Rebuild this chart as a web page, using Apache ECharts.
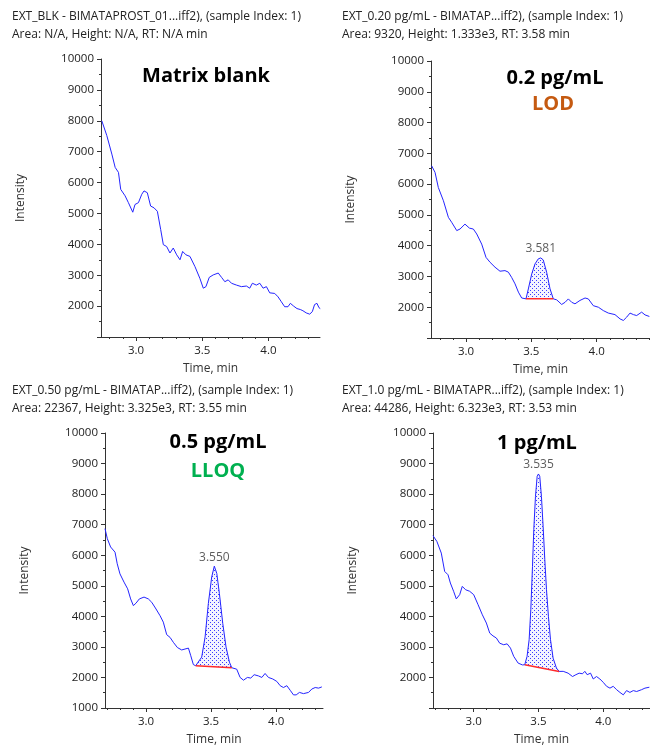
<!DOCTYPE html>
<html>
<head>
<meta charset="utf-8">
<script src="https://cdn.jsdelivr.net/npm/echarts@6/dist/echarts.min.js"></script>
<style>
html,body{margin:0;padding:0;background:#fff;}
#chart{width:650px;height:750px;}
</style>
</head>
<body>
<div id="chart"></div>
<script>
// ---------------- DATA ----------------
const blankTrace = [[2.741,8000],[2.779,7520],[2.817,6920],[2.842,6490],[2.867,6330],[2.884,5780],[2.917,5570],[2.942,5350],[2.975,5040],[2.992,5290],[3.018,5350],[3.043,5620],[3.06,5730],[3.085,5670],[3.11,5240],[3.136,5180],[3.161,5070],[3.186,4480],[3.206,3990],[3.231,3930],[3.256,3720],[3.281,3880],[3.307,3660],[3.332,3500],[3.352,3770],[3.377,3660],[3.407,3610],[3.445,3280],[3.482,2900],[3.508,2580],[3.528,2630],[3.553,2930],[3.583,3010],[3.621,3070],[3.646,2930],[3.671,2790],[3.696,2850],[3.721,2740],[3.759,2680],[3.796,2630],[3.834,2650],[3.859,2580],[3.879,2740],[3.909,2680],[3.935,2740],[3.96,2580],[3.985,2630],[4.01,2430],[4.048,2410],[4.073,2300],[4.098,2140],[4.123,1980],[4.148,1980],[4.166,2090],[4.191,2000],[4.216,1920],[4.241,1890],[4.261,1850],[4.286,1780],[4.312,1740],[4.332,1820],[4.349,2050],[4.367,2090],[4.382,1950],[4.392,1920]];

const lodTrace = [[2.737,6595],[2.763,6380],[2.788,5890],[2.827,5460],[2.865,4920],[2.89,4760],[2.929,4490],[2.954,4540],[2.992,4700],[3.026,4570],[3.056,4540],[3.082,4380],[3.12,4050],[3.153,3620],[3.184,3460],[3.222,3300],[3.26,3170],[3.298,3190],[3.324,3140],[3.349,2970],[3.375,2760],[3.401,2490],[3.426,2300],[3.459,2272],[3.477,2597],[3.503,3083],[3.528,3407],[3.553,3570],[3.572,3602],[3.591,3537],[3.617,3135],[3.643,2597],[3.668,2272],[3.694,2240],[3.732,2090],[3.758,2160],[3.783,2270],[3.809,2160],[3.834,2110],[3.872,2220],[3.911,2300],[3.936,2270],[3.974,2050],[4.013,2000],[4.051,1890],[4.089,1810],[4.14,1760],[4.179,1620],[4.204,1570],[4.23,1680],[4.255,1810],[4.281,1760],[4.306,1730],[4.344,1840],[4.37,1750],[4.403,1700]];

const lloqTrace = [[2.685,6870],[2.703,6540],[2.728,6270],[2.762,6100],[2.779,5720],[2.8,5390],[2.831,5120],[2.859,4900],[2.882,4570],[2.903,4350],[2.923,4430],[2.949,4570],[2.985,4630],[3.018,4570],[3.044,4460],[3.077,4240],[3.108,4020],[3.133,3810],[3.159,3400],[3.185,3310],[3.21,3150],[3.241,2980],[3.274,2900],[3.3,2930],[3.326,2960],[3.344,2710],[3.364,2420],[3.382,2384],[3.428,2666],[3.454,3323],[3.479,4417],[3.505,5292],[3.525,5643],[3.544,5403],[3.564,4746],[3.59,3761],[3.615,2994],[3.641,2502],[3.659,2318],[3.697,2270],[3.723,2000],[3.749,1910],[3.779,2000],[3.805,1980],[3.831,2090],[3.864,2050],[3.89,2000],[3.915,2130],[3.941,2000],[3.974,1950],[4.005,1870],[4.031,1730],[4.056,1670],[4.082,1730],[4.108,1580],[4.133,1430],[4.154,1430],[4.179,1510],[4.21,1470],[4.249,1510],[4.274,1620],[4.3,1670],[4.326,1650],[4.351,1690]];

const oneTrace = [[2.686,6640],[2.716,6450],[2.75,6070],[2.776,5470],[2.802,5360],[2.82,5090],[2.845,4820],[2.866,4570],[2.892,4710],[2.912,4980],[2.938,4870],[2.969,4820],[3.0,4710],[3.034,4380],[3.067,4050],[3.098,3780],[3.124,3450],[3.149,3360],[3.175,3290],[3.201,3120],[3.232,3070],[3.258,3100],[3.284,2960],[3.309,2690],[3.343,2470],[3.376,2410],[3.394,2415],[3.412,2688],[3.428,3234],[3.441,4216],[3.454,5635],[3.464,6836],[3.477,7928],[3.49,8583],[3.5,8659],[3.51,8583],[3.523,7928],[3.536,6945],[3.549,5852],[3.562,4871],[3.577,3998],[3.593,3234],[3.613,2633],[3.639,2306],[3.66,2197],[3.691,2200],[3.729,2140],[3.763,2030],[3.789,2090],[3.814,2140],[3.84,2120],[3.858,2200],[3.876,2090],[3.902,2140],[3.923,1950],[3.948,2030],[3.974,1950],[4.0,1840],[4.026,1710],[4.052,1650],[4.077,1710],[4.103,1600],[4.129,1510],[4.155,1430],[4.18,1570],[4.206,1510],[4.232,1570],[4.258,1540],[4.296,1600],[4.322,1650],[4.356,1680]];

const traces = [blankTrace, lodTrace, lloqTrace, oneTrace];
const peakWindows = [null, [3.459, 3.668], [3.382, 3.659], [3.394, 3.66]];
const peakRT = [null, '3.581', '3.550', '3.535'];

const titleLine1 = [
  'EXT_BLK - BIMATAPROST_01...iff2), (sample Index: 1)',
  'EXT_0.20 pg/mL - BIMATAP...iff2), (sample Index: 1)',
  'EXT_0.50 pg/mL - BIMATAP...iff2), (sample Index: 1)',
  'EXT_1.0 pg/mL - BIMATAPR...iff2), (sample Index: 1)'
];
const titleLine2 = [
  'Area: N/A, Height: N/A, RT: N/A min',
  'Area: 9320, Height: 1.333e3, RT: 3.58 min',
  'Area: 22367, Height: 3.325e3, RT: 3.55 min',
  'Area: 44286, Height: 6.323e3, RT: 3.53 min'
];
const panelLabels = ['Matrix blank', '0.2 pg/mL', '0.5 pg/mL', '1 pg/mL'];
const panelTags = [null, 'LOD', 'LLOQ', null];

const xRanges = [[2.735, 4.39], [2.732, 4.408], [2.685, 4.36], [2.686, 4.361]];
const yMin = 1000, yMax = 10000, yStep = 1000;
const xMajorTicks = [3.0, 3.5, 4.0];
const xMinorTicks = [2.7, 2.8, 2.9, 3.1, 3.2, 3.3, 3.4, 3.6, 3.7, 3.8, 3.9, 4.1, 4.2, 4.3, 4.4];
const showBottomLabel = [false, false, true, false];

// ---------------- LAYOUT / STYLE ----------------
const FONT = '"Open Sans", "Noto Sans", sans-serif';
const grids = [
  {left: 101, top: 59, width: 219, height: 278},
  {left: 431, top: 61, width: 219, height: 277},
  {left: 105, top: 433, width: 218, height: 275},
  {left: 433, top: 433, width: 217, height: 275}
];
const titlePos = [[12, 19, 37], [342, 19, 37], [12, 393, 411], [342, 393, 411]];
const labelPos = [[206, 76], [555, 78], [218, 442], [537, 443]];
const tagPos = [null, [553, 104], [218, 471], null];
const tagColor = [null, '#c55a11', '#00b050', null];
const traceColor = '#2424ff';
const axisColor = '#333';

function dotPattern() {
  const c = document.createElement('canvas');
  c.width = 4; c.height = 4;
  const g = c.getContext('2d');
  g.fillStyle = '#f4f4ff'; g.fillRect(0, 0, 4, 4);
  g.fillStyle = '#3c3cff';
  g.fillRect(0, 0, 1, 1); g.fillRect(2, 2, 1, 1);
  return c;
}
const pattern = {image: dotPattern(), repeat: 'repeat'};

const chart = echarts.init(document.getElementById('chart'), null, {renderer: 'canvas'});

const grid = [], xAxis = [], yAxis = [], series = [], graphic = [];

traces.forEach((trace, i) => {
  grid.push(Object.assign({containLabel: false}, grids[i]));
  const [xmin, xmax] = xRanges[i];
  xAxis.push({
    type: 'value', gridIndex: i, min: xmin, max: xmax, position: 'bottom',
    name: 'Time, min', nameLocation: 'middle', nameGap: 26,
    nameTextStyle: {fontFamily: FONT, fontSize: 12, color: '#333'},
    axisLine: {show: true, onZero: false, lineStyle: {color: axisColor, width: 1}},
    axisTick: {show: true, length: 4, customValues: xMajorTicks, lineStyle: {color: axisColor}},
    axisLabel: {show: true, customValues: xMajorTicks, margin: 8, fontFamily: FONT, fontSize: 11.5, color: '#222',
      formatter: v => Number(v).toFixed(1)},
    splitLine: {show: false}
  });
  xAxis.push({
    type: 'value', gridIndex: i, min: xmin, max: xmax, position: 'bottom',
    axisLine: {show: false},
    axisTick: {show: true, length: 2, customValues: xMinorTicks.filter(t => t > xmin && t < xmax), lineStyle: {color: axisColor}},
    axisLabel: {show: false},
    splitLine: {show: false}
  });
  yAxis.push({
    type: 'value', gridIndex: i, min: yMin, max: yMax, interval: yStep,
    name: 'Intensity', nameLocation: 'middle', nameGap: 74,
    nameTextStyle: {fontFamily: FONT, fontSize: 12, color: '#333'},
    axisLine: {show: true, onZero: false, lineStyle: {color: axisColor, width: 1}},
    axisTick: {show: true, length: 4, lineStyle: {color: axisColor}},
    minorTick: {show: true, splitNumber: 2, length: 2, lineStyle: {color: axisColor}},
    axisLabel: {show: true, margin: 7, fontFamily: FONT, fontSize: 11.5, color: '#222', showMinLabel: showBottomLabel[i],
      formatter: v => String(v)},
    splitLine: {show: false}, minorSplitLine: {show: false}
  });
  const xi = i * 2;
  series.push({
    type: 'line', xAxisIndex: xi, yAxisIndex: i, data: trace, showSymbol: false, symbol: 'none',
    lineStyle: {color: traceColor, width: 1}, z: 3, animation: false
  });
  const win = peakWindows[i];
  if (win) {
    const peak = trace.filter(p => p[0] >= win[0] && p[0] <= win[1]);
    series.push({
      type: 'custom', xAxisIndex: xi, yAxisIndex: i, data: peak, z: 2, animation: false,
      renderItem: (params, api) => {
        if (params.dataIndex !== 0) return null;
        const pts = peak.map(p => api.coord(p));
        return {type: 'polygon', shape: {points: pts}, style: {fill: pattern, stroke: null}};
      }
    });
    series.push({
      type: 'line', xAxisIndex: xi, yAxisIndex: i, data: [peak[0], peak[peak.length - 1]],
      showSymbol: false, symbol: 'none', lineStyle: {color: '#ff2a2a', width: 1.5}, z: 4, animation: false
    });
    const apex = peak.reduce((a, b) => (b[1] > a[1] ? b : a));
    series.push({
      type: 'scatter', xAxisIndex: xi, yAxisIndex: i, data: [apex], symbolSize: 0, z: 5, animation: false,
      label: {show: true, position: 'top', distance: 3, formatter: () => peakRT[i],
        fontFamily: FONT, fontSize: 12, color: '#333'}
    });
  }
  graphic.push({type: 'text', left: titlePos[i][0], top: titlePos[i][1] - 8,
    style: {text: titleLine1[i], font: '12px ' + FONT, fill: '#222'}});
  graphic.push({type: 'text', left: titlePos[i][0], top: titlePos[i][2] - 8,
    style: {text: titleLine2[i], font: '12px ' + FONT, fill: '#222'}});
  graphic.push({type: 'text', x: labelPos[i][0], y: labelPos[i][1],
    style: {text: panelLabels[i], font: 'bold 20px ' + FONT, fill: '#000', align: 'center', verticalAlign: 'middle'}});
  if (panelTags[i]) {
    graphic.push({type: 'text', x: tagPos[i][0], y: tagPos[i][1],
      style: {text: panelTags[i], font: 'bold 20px ' + FONT, fill: tagColor[i], align: 'center', verticalAlign: 'middle'}});
  }
});

chart.setOption({
  animation: false,
  backgroundColor: '#fff',
  grid, xAxis, yAxis, series, graphic
});
</script>
</body>
</html>
